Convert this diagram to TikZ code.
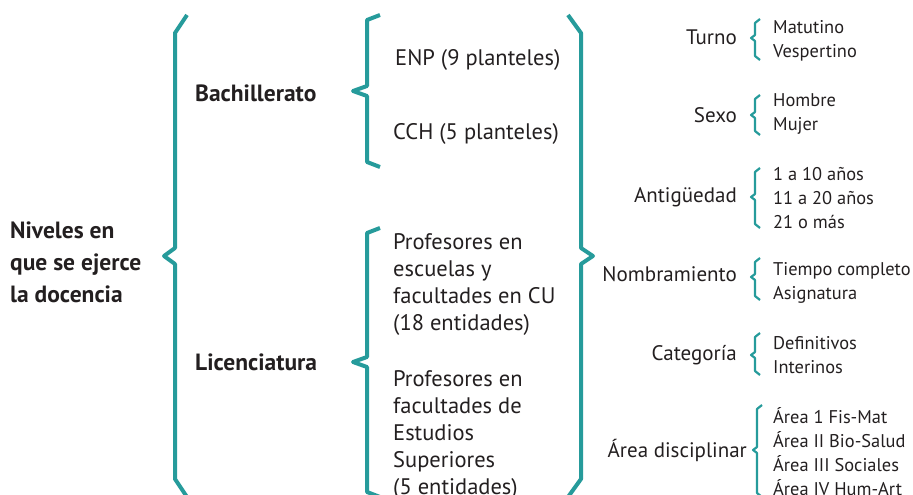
\documentclass[tikz,border=0pt]{standalone}
\usepackage{fontspec}
\setmainfont{PT Sans}
\usetikzlibrary{positioning, calc}
\definecolor{llaveteal}{RGB}{38,155,155}
\definecolor{textogris}{RGB}{35,31,32}

\tikzset{
  llave/.style={draw=llaveteal, line width=4pt, line join=round},
  llavechica/.style={draw=llaveteal, line width=2.2pt, line join=round},
  nivel/.style={font=\bfseries\fontsize{23.5}{32}\selectfont, text=textogris, align=left, inner sep=0pt},
  entidad/.style={font=\fontsize{22.5}{27}\selectfont, text=textogris, align=left, inner sep=0pt},
  rubro/.style={font=\fontsize{21}{24}\selectfont, text=textogris, anchor=east, inner sep=0pt},
  opcion/.style={font=\fontsize{18.4}{24}\selectfont, text=textogris, align=left, anchor=west, inner sep=0pt}
}

% llave: x, arriba, abajo, pico, dx extremo, dy extremo, ancho pico, medio pico
\newcommand{\llave}[8]{%
  \draw[llave] (#1+#5,#2) -- (#1,#2+#6) -- (#1,#4-#8) -- (#1-#7,#4)
    -- (#1,#4+#8) -- (#1,#3-#6) -- (#1+#5,#3);}
% llave chica de la derecha: x, arriba, abajo, pico
\newcommand{\llavechica}[4]{%
  \draw[llavechica] (#1+5,#2) -- (#1,#2+4) -- (#1,#4-3) -- (#1-4,#4)
    -- (#1,#4+3) -- (#1,#3-4) -- (#1+5,#3);}

\begin{document}
\begin{tikzpicture}[x=1pt, y=-1pt]
    \useasboundingbox (0,0) rectangle (913,495);

    % Niveles
    \node[nivel, anchor=west] (niveles) at (10,262) {Niveles en\\que se ejerce\\la docencia};
    \llave{175}{15}{497}{256}{12}{18}{11}{8}
    \node[nivel, anchor=west] (bachillerato) at (195,93) {Bachillerato};
    \node[nivel, anchor=west] (licenciatura) at (195,362) {Licenciatura};

    % Bachillerato
    \llave{367}{15}{167}{91}{13}{5}{14}{5}
    \node[entidad, anchor=west] (enp) at (395,60) {ENP (9 planteles)};
    \node[entidad, anchor=west] (cch) at (393,134) {CCH (5 planteles)};

    % Licenciatura
    \llave{367}{228}{497}{362}{13}{5}{14}{5}
    \node[entidad, anchor=west] (cu) at (393,285) {Profesores en\\escuelas y\\facultades en CU\\(18 entidades)};
    \node[entidad, anchor=west] (fes) at (393,435) {Profesores en\\facultades de\\Estudios\\Superiores\\(5 entidades)};

    % Llave de cierre
    \llave{581}{15}{497}{256}{-13}{18}{-12}{8}

    % Variables
    \node[rubro] (turno) at (737,37) {Turno};
    \llavechica{755}{19}{60}{38}
    \node[opcion] (turnoop) at (773,41) {Matutino\\Vespertino};

    \node[rubro] (sexo) at (737,115) {Sexo};
    \llavechica{755}{95}{135}{115}
    \node[opcion] (sexoop) at (773,114) {Hombre\\Mujer};

    \node[rubro] (antiguedad) at (737,197) {Antigüedad};
    \llavechica{755}{168}{228}{197}
    \node[opcion] (antiguedadop) at (773,198) {1 a 10 años\\11 a 20 años\\21 o más};

    \node[rubro] (nombramiento) at (737,274) {Nombramiento};
    \llavechica{755}{258}{300}{277}
    \node[opcion] (nombramientoop) at (773,283) {Tiempo completo\\Asignatura};

    \node[rubro] (categoria) at (737,355) {Categoría};
    \llavechica{755}{333}{375}{355}
    \node[opcion] (categoriaop) at (773,355) {Definitivos\\Interinos};

    \node[rubro] (area) at (747,450) {Área disciplinar};
    \llavechica{757}{405}{497}{450}
    \node[opcion] (areaop) at (773,452) {Área 1 Fis-Mat\\Área II Bio-Salud\\Área III Sociales\\Área IV Hum-Art};
\end{tikzpicture}
\end{document}
